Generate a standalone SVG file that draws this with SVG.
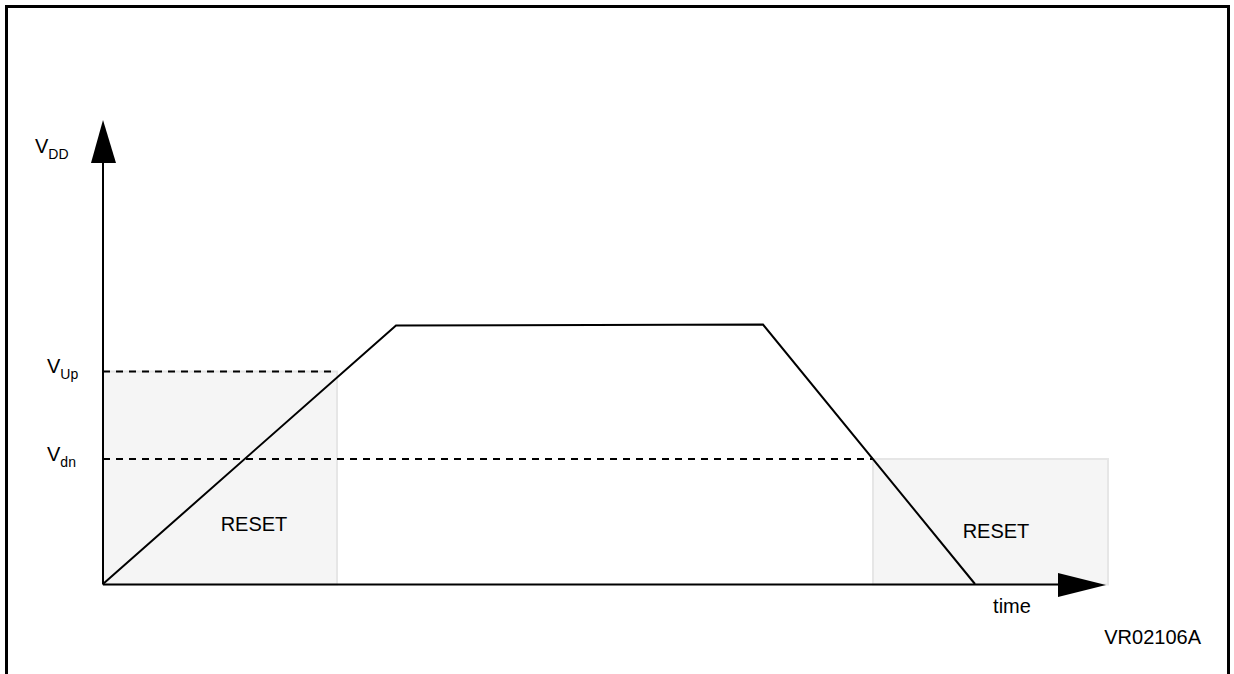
<svg xmlns="http://www.w3.org/2000/svg" width="1234" height="674" viewBox="0 0 1234 674">
<style>
text{font-family:"Liberation Sans",Arial,sans-serif;fill:#000}
.lbl{font-size:20px}
.sub{font-size:14px}
.box{fill:#f5f5f5;stroke:#e6e6e6;stroke-width:2}
.dash{fill:none;stroke:#000;stroke-width:2;stroke-dasharray:7 6}
.ln{fill:none;stroke:#000;stroke-width:2}
</style>
<rect width="1234" height="674" fill="#fff"/>
<path d="M6.5,680 V6.5 H1228.5 V680" fill="none" stroke="#000" stroke-width="3"/>
<g id="reset1"><rect class="box" x="103" y="371.5" width="234" height="213"/><text class="lbl" x="254" y="531" text-anchor="middle">RESET</text></g>
<g id="reset2"><rect class="box" x="873" y="459" width="235" height="125.5"/><text class="lbl" x="996" y="538" text-anchor="middle">RESET</text></g>
<g id="connectors">
<line class="dash" x1="103" y1="371.5" x2="337" y2="371.5"/>
<line class="dash" x1="103" y1="459" x2="873" y2="459"/>
<line class="ln" x1="103" y1="584.5" x2="1060" y2="584.5"/>
<polygon points="1058,573 1106,585 1058,597" fill="#000"/>
<line class="ln" x1="103" y1="584.5" x2="103" y2="160"/>
<polygon points="91,163 103,120 116,163" fill="#000"/>
<polyline class="ln" points="103,584 396,325.5 763,324.5 975,584"/>
</g>
<g id="axis-labels">
<text class="lbl" x="35" y="153">V<tspan class="sub" dy="6">DD</tspan></text>
<text class="lbl" x="47" y="373">V<tspan class="sub" dy="6">Up</tspan></text>
<text class="lbl" x="47" y="461">V<tspan class="sub" dy="6">dn</tspan></text>
<text class="lbl" x="1012" y="613" text-anchor="middle">time</text>
<text class="lbl" x="1201" y="644" text-anchor="end">VR02106A</text>
</g>
</svg>
